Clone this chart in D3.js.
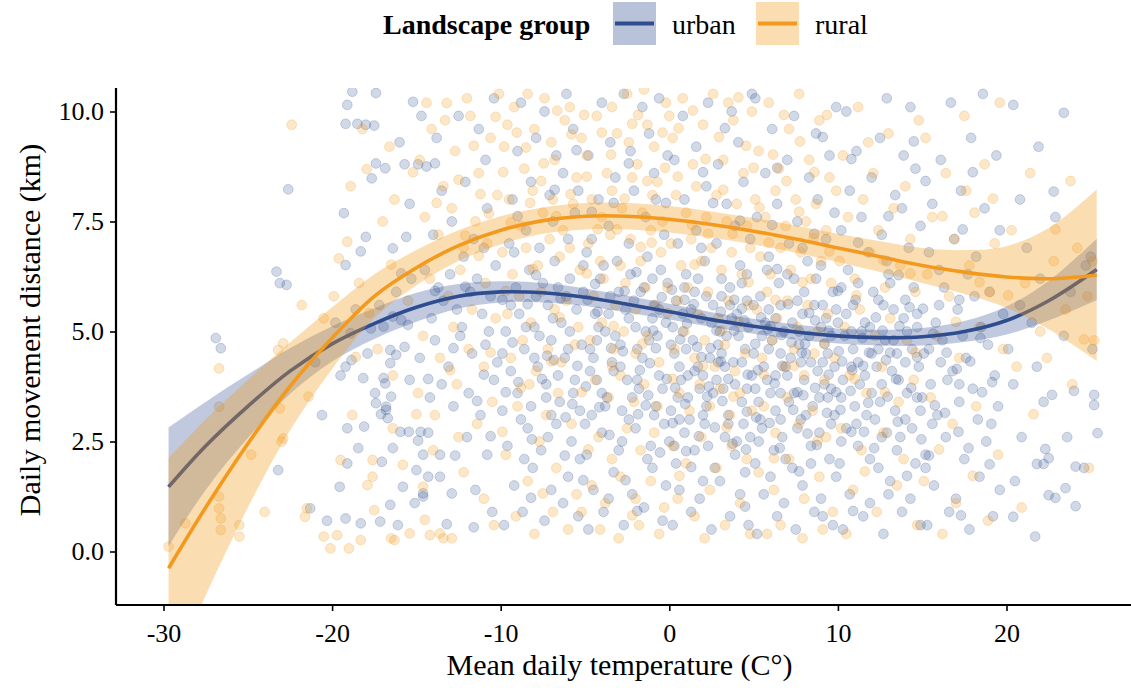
<!DOCTYPE html>
<html><head><meta charset="utf-8">
<script src="https://cdn.jsdelivr.net/npm/d3@7"></script>
<style>
body{margin:0;background:#fff}
svg{display:block}
text{font-family:"Liberation Serif","Times New Roman",serif;fill:#000}
</style>
</head><body>
<svg id="c" width="1131" height="688"></svg>
<script>
// ---------- data ----------
const groups = ["urban", "rural"];
const groupColors = {urban: "#2E4C8E", rural: "#F39A1E"};
const xTicks = [-30, -20, -10, 0, 10, 20];
const yTicks = [0, 2.5, 5, 7.5, 10];
const xTitle = "Mean daily temperature (C°)";
const yTitle = "Daily movement distance (km)";
const legendTitle = "Landscape group";

// smoothing fits (temperature, fitted value, half-width of confidence band)
const fitTemps   = [-29.7,-27.5,-25,-22.5,-20,-17.5,-15,-12.5,-10,-7.5,-5,-2.5,0,2.5,5,7.5,10,12.5,15,17.5,20,22.5,25.35];
const urbanFit   = [1.47,2.4,3.3,4.1,4.72,5.18,5.55,5.8,5.9,5.88,5.78,5.62,5.45,5.27,5.12,4.99,4.9,4.86,4.88,5.0,5.25,5.7,6.41];
const urbanHalf  = [1.35,1.0,0.72,0.52,0.4,0.35,0.33,0.28,0.24,0.22,0.2,0.19,0.18,0.17,0.17,0.17,0.17,0.18,0.2,0.24,0.32,0.45,0.7];
const ruralFit   = [-0.38,1.0,2.45,3.75,4.85,5.8,6.45,6.95,7.3,7.52,7.62,7.62,7.55,7.43,7.28,7.1,6.9,6.7,6.5,6.35,6.24,6.2,6.28];
const ruralHalf  = [2.5,2.0,1.45,1.0,0.7,0.5,0.4,0.35,0.32,0.3,0.3,0.3,0.3,0.3,0.3,0.31,0.32,0.35,0.4,0.5,0.7,1.15,1.95];

// observations [temperature, distance]
const urbanPoints = [
[-26.9,4.85],[-26.6,4.62],[-23.3,6.36],[-23.1,6.1],[-22.7,6.06],[-23.2,1.85],[-22.6,8.23],[-21.3,0.98],[-20.6,3.1],[-20.3,0.7],[-21.0,4.3],
[-19.55,1.47],[-19.2,0.75],[-18.3,0.64],[-17.15,0.68],[-16.1,0.6],[-16.55,1.06],[-19.1,2.8],[-18.1,2.84],[-18.45,2.35],[-19.1,2.0],[-17.05,2.04],[-16.4,2.35],[-15.8,1.47],[-15.95,2.72],[-15.45,2.72],[-16.85,3.82],[-17.45,3.6],[-17.4,3.37],[-16.5,3.52],[-16.8,3.22],[-18.15,3.94],[-19.2,4.2],[-18.85,4.35],[-19.5,4.0],[-16.55,4.58],[-16.2,4.47],[-15.7,4.65],[-16.55,4.28],[-16.95,3.94],[-16.8,3.29],[-16.7,3.03],[-18.9,4.96],[-17.7,5.07],[-16.95,5.11],[-16.4,5.34],[-15.9,5.26],[-15.5,5.15],[-19.3,7.69],[-19.2,6.51],[-18.0,7.15],[-16.4,6.89],[-15.6,7.15],[-19.1,10.15],[-19.2,9.72],[-18.5,9.72],[-18.0,9.7],[-17.5,9.68],[-18.8,10.45],[-17.4,10.42],[-17.4,8.82],[-16.85,8.71],[-17.65,8.48],[-15.7,8.8],[-15.2,10.22],[-16.2,5.9],[-17.2,5.6],[-15.3,6.2],[-18.6,5.5],[-17.9,4.5],[-15.4,3.9],[-15.1,1.1],[-19.8,5.2],[-16.0,9.3],[-15.4,7.9],
[-14.9,8.8],[-14.4,8.75],[-13.9,8.82],[-14.75,2.72],[-14.3,2.7],[-14.6,2.2],[-13.6,2.2],[-12.7,2.18],[-15,1.85],[-13.6,1.7],[-12.9,1.32],[-14.6,1.25],[-14.3,1.7],[-14.6,1.32],[-13.2,0.62],[-11.6,0.55],[-10.5,0.9],[-14.2,3.5],[-13.5,3.8],[-12.8,3.3],[-11.9,3.6],[-11.2,3.1],[-10.4,3.9],[-14.8,4.4],[-13.9,4.8],[-13.1,4.2],[-12.4,4.9],[-11.7,4.5],[-10.9,4.7],[-10.2,4.3],[-14.1,5.3],[-13.4,5.7],[-12.6,5.5],[-11.8,5.9],[-11.1,5.4],[-10.6,5.8],[-14.5,6.4],[-13.0,6.3],[-12.2,6.7],[-11.4,6.2],[-10.3,6.5],[-14.0,7.2],[-12.9,7.5],[-11.6,7.1],[-10.8,7.8],[-13.5,8.2],[-12.1,8.4],[-10.9,8.9],[-13.8,9.4],[-12.5,9.9],[-11.3,9.6],[-10.4,10.3],[-12.0,2.6],[-10.8,2.2],[-11.5,1.4],[-12.3,5.1],[-10.7,5.0],[-13.7,6.0],[-11.0,6.9],[-14.7,9.9],
[-9.8,0.6],[-8.7,0.9],[-7.4,0.7],[-6.3,1.1],[-5.4,0.8],[-9.2,1.5],[-8.1,1.9],[-7.0,1.4],[-6.0,1.7],[-5.3,2.1],[-9.6,2.4],[-8.4,2.8],[-7.6,2.3],[-6.7,2.9],[-5.8,2.5],[-9.9,3.2],[-9.0,3.6],[-8.2,3.3],[-7.3,3.8],[-6.5,3.4],[-5.6,3.9],[-9.4,4.1],[-8.6,4.6],[-7.8,4.2],[-7.0,4.8],[-6.2,4.4],[-5.2,4.7],[-9.7,5.0],[-8.9,5.4],[-8.0,5.1],[-7.2,5.6],[-6.4,5.2],[-5.5,5.5],[-9.1,6.0],[-8.3,6.4],[-7.5,6.1],[-6.8,6.6],[-5.9,6.2],[-5.1,6.5],[-9.5,7.0],[-8.5,7.3],[-7.7,6.9],[-6.9,7.5],[-6.0,7.1],[-9.3,8.0],[-8.2,8.4],[-7.1,8.1],[-6.3,8.6],[-5.4,8.2],[-9.0,9.1],[-7.9,9.4],[-6.7,9.0],[-5.7,9.6],[-8.8,10.2],[-7.4,10.0],[-6.1,10.4],[-9.9,4.5],[-8.8,3.0],[-7.9,5.8],[-6.6,4.0],[-5.9,5.0],[-9.4,5.6],[-8.0,4.4],[-7.0,3.1],[-6.1,5.8],[-5.3,3.2],[-8.6,2.1],[-7.2,2.6],[-9.2,6.8],[-5.6,7.7],
[-4.8,0.5],[-3.9,0.9],[-2.7,0.6],[-1.5,1.0],[-0.4,0.7],[-4.5,1.4],[-3.3,1.8],[-2.2,1.3],[-1.0,1.9],[-0.2,1.5],[-4.9,2.2],[-4.0,2.7],[-3.0,2.3],[-2.0,2.8],[-1.1,2.4],[-0.3,2.9],[-4.6,3.1],[-3.7,3.5],[-2.8,3.2],[-1.8,3.7],[-0.8,3.3],[-4.3,3.9],[-3.4,4.3],[-2.5,3.9],[-1.6,4.4],[-0.6,4.0],[-4.7,4.6],[-3.8,5.0],[-2.9,4.7],[-2.0,5.1],[-1.2,4.8],[-0.2,5.2],[-4.4,5.4],[-3.5,5.8],[-2.6,5.5],[-1.7,5.9],[-0.9,5.6],[-4.1,6.2],[-3.1,6.6],[-2.3,6.3],[-1.3,6.7],[-0.5,6.4],[-4.6,7.1],[-3.6,7.4],[-2.4,7.0],[-1.4,7.6],[-0.3,7.2],[-4.2,8.0],[-3.2,8.5],[-2.1,8.2],[-0.9,8.6],[-4.8,9.0],[-3.5,9.3],[-2.3,9.1],[-1.2,9.5],[-0.1,9.0],[-4.0,10.2],[-2.7,10.4],[-1.6,10.1],[-0.6,10.3],[-3.3,4.1],[-1.9,4.6],[-0.7,4.9],[-4.2,5.1],[-2.4,5.3],[-1.0,5.3],[-3.8,3.3],[-2.2,3.5],[-0.4,3.7],[-4.5,4.4],[-3.0,5.9],[-1.5,6.0],[-0.1,6.1],[-2.8,2.5],[-1.3,2.1],[-3.6,1.2],[-0.8,8.0],[-4.9,6.8],
[0.2,0.6],[1.3,0.9],[2.5,0.5],[3.6,0.8],[4.7,0.6],[0.6,1.4],[1.8,1.2],[3.0,1.6],[4.2,1.3],[0.4,2.0],[1.5,2.3],[2.7,1.9],[3.9,2.2],[4.8,2.6],[0.9,2.7],[2.1,2.9],[3.3,2.6],[4.4,2.9],[0.1,3.2],[1.1,3.5],[2.2,3.3],[3.2,3.7],[4.3,3.4],[0.7,3.9],[1.7,4.2],[2.8,3.9],[3.8,4.3],[4.9,4.0],[0.3,4.5],[1.4,4.8],[2.4,4.4],[3.4,4.9],[4.5,4.6],[0.8,5.0],[1.9,5.3],[3.0,5.0],[4.0,5.4],[0.4,5.7],[1.5,5.9],[2.6,5.6],[3.6,6.0],[4.6,5.7],[1.0,6.3],[2.1,6.6],[3.1,6.2],[4.2,6.5],[0.5,7.0],[1.6,7.3],[2.8,7.0],[3.9,7.4],[4.8,7.1],[0.9,8.0],[2.2,8.3],[3.4,7.9],[4.4,8.4],[0.3,8.9],[1.6,9.2],[2.9,8.8],[4.1,9.3],[0.8,9.9],[2.3,10.2],[3.7,10.0],[4.9,10.4],[0.6,4.2],[1.2,3.0],[2.0,4.0],[2.9,4.7],[3.5,3.1],[4.1,4.9],[0.2,5.1],[1.0,4.6],[1.8,3.7],[2.5,5.2],[3.3,4.2],[4.6,3.7],[4.0,2.5],[0.5,3.5],[2.3,2.4],[3.7,5.3],[4.7,5.1],[1.3,5.5],[2.6,3.6],[0.9,6.0],[3.1,5.8],[4.3,6.1],[1.9,6.9],[4.5,1.8],[2.0,1.6],[0.0,2.5],
[5.2,0.4],[6.4,0.8],[7.5,0.5],[8.6,0.9],[9.7,0.6],[5.6,1.3],[6.8,1.1],[7.9,1.5],[9.0,1.2],[9.9,1.7],[5.1,2.0],[6.2,2.3],[7.3,1.9],[8.4,2.4],[9.5,2.1],[5.5,2.8],[6.7,2.6],[7.8,3.0],[8.9,2.7],[9.8,3.1],[5.3,3.4],[6.3,3.2],[7.4,3.6],[8.5,3.3],[9.6,3.7],[5.8,3.9],[6.9,4.2],[8.0,3.9],[9.1,4.3],[5.0,4.5],[6.1,4.8],[7.2,4.4],[8.3,4.9],[9.4,4.5],[5.7,5.2],[6.8,5.0],[7.9,5.4],[9.0,5.1],[9.9,5.5],[5.4,5.8],[6.5,6.1],[7.6,5.7],[8.7,6.2],[9.7,5.9],[5.9,6.7],[7.1,7.0],[8.2,6.6],[9.3,7.1],[5.2,7.6],[6.4,7.9],[7.6,7.5],[8.8,8.0],[9.8,7.7],[5.7,8.6],[7.0,8.9],[8.3,8.5],[9.5,9.0],[6.1,9.6],[7.4,9.9],[8.7,9.5],[9.9,10.1],[5.1,10.3],[6.6,4.5],[7.7,4.7],[8.8,4.1],[5.5,4.9],[6.0,3.6],[7.1,3.4],[8.1,4.5],[9.2,3.8],[5.9,5.5],[7.3,5.2],[8.6,5.6],[9.6,4.9],[6.3,4.0],[7.6,2.8],[8.9,3.5],[5.4,3.0],[6.6,5.6],[8.0,5.9],[9.3,5.3],[7.0,6.3],[8.4,2.0],[6.0,1.7],[9.1,0.8],[5.8,6.4],[7.9,6.9],[9.0,6.5],[6.9,2.1],
[10.3,0.5],[11.5,0.8],[12.7,0.4],[13.8,0.9],[14.9,0.6],[10.7,1.3],[11.9,1.1],[13.1,1.6],[14.3,1.2],[10.1,2.0],[11.2,2.4],[12.4,1.9],[13.5,2.3],[14.6,2.0],[10.5,2.8],[11.7,3.1],[12.9,2.7],[14.0,3.0],[10.2,3.5],[11.3,3.8],[12.5,3.4],[13.6,3.9],[14.7,3.5],[10.8,4.2],[12.0,4.5],[13.2,4.1],[14.4,4.6],[10.4,4.9],[11.6,5.2],[12.8,4.8],[13.9,5.3],[10.9,5.6],[12.1,5.9],[13.3,5.5],[14.5,6.0],[10.6,6.4],[11.8,6.8],[13.0,6.3],[14.2,6.9],[10.2,7.3],[11.4,7.6],[12.6,7.2],[13.8,7.8],[14.9,7.4],[10.7,8.2],[12.0,8.5],[13.4,8.1],[14.6,8.7],[11.1,9.1],[12.5,9.4],[13.9,9.0],[10.5,10.0],[12.9,10.3],[14.3,10.1],[11.0,3.3],[12.2,3.0],[13.7,2.6],[10.9,4.6],[12.3,4.2],[13.5,4.5],[14.8,4.2],[11.4,5.0],[12.7,5.6],[14.1,5.0],[11.9,2.1],[13.0,1.3],[14.4,2.8],[10.0,5.2],[11.2,6.1],[12.9,6.6],[14.7,5.4],[10.3,3.9],[13.4,3.2],[11.6,4.0],
[15.3,0.6],[16.6,0.9],[17.8,0.5],[19.2,0.8],[15.7,1.5],[17.0,1.2],[18.4,1.7],[19.6,1.4],[15.2,2.2],[16.4,2.6],[17.5,2.1],[18.8,2.5],[15.9,3.1],[17.2,3.4],[18.3,3.0],[19.5,3.3],[15.5,3.8],[16.8,4.1],[18.0,3.7],[19.3,4.0],[15.1,4.5],[16.2,4.8],[17.6,4.4],[18.9,4.7],[15.8,5.2],[17.1,5.5],[18.5,5.1],[19.8,5.4],[16.3,6.0],[17.7,6.3],[19.0,5.9],[15.4,6.8],[16.9,7.1],[18.2,6.7],[19.6,7.3],[15.6,7.9],[17.3,8.2],[18.7,7.8],[16.1,8.9],[17.9,9.4],[19.4,9.0],[16.7,10.2],[18.6,10.4],[15.0,3.5],[16.5,3.9],[17.4,4.9],[18.1,5.8],[19.1,2.9],[16.0,5.6],
[20.4,0.79],[21.7,0.34],[22.5,1.28],[22.9,1.22],[23.5,1.44],[24.1,1.03],[20.5,1.6],[21.8,1.99],[22.2,1.99],[22.3,2.33],[22.5,2.12],[24.1,1.93],[24.6,1.9],[23.6,2.6],[25.4,2.69],[22.2,3.4],[22.7,3.56],[24.0,3.65],[25.2,3.56],[25.2,3.33],[20.9,2.6],[20.4,3.8],[21.8,4.2],[23.4,4.9],[25.1,4.6],[20.8,5.6],[22.0,6.2],[23.8,5.9],[24.7,6.5],[25.0,6.7],[21.2,6.9],[22.9,7.6],[20.8,8.0],[22.8,8.18],[21.9,9.2],[20.4,10.15],[23.4,9.97],[20.1,4.6],[21.5,5.2],
[-7.7,4.9],[-6.9,5.3],[-6.0,4.6],[-5.1,5.9],[-4.3,4.8],[-3.6,5.4],[-2.9,4.2],[-2.1,5.7],[-1.4,5.0],[-0.6,5.5],[0.1,4.7],[0.8,5.4],[1.5,4.1],[2.2,5.8],[2.9,4.3],[3.6,5.6],[4.3,4.3],[5.0,5.6],[5.6,4.2],[6.3,5.3],[7.0,4.0],[7.7,5.0],[8.4,4.3],[9.1,5.6],[9.8,4.2],[10.5,5.4],[11.2,4.3],[11.9,5.1],[12.6,3.8],[13.3,4.8],[14.0,4.3],[14.7,5.1],[15.4,4.6],[16.1,4.3],[-7.3,3.5],[-5.7,3.6],[-4.0,3.6],[-2.4,3.0],[-0.9,3.1],[0.6,3.0],[2.0,3.1],[3.5,2.9],[5.1,3.7],[6.6,3.0],[8.1,3.1],[9.6,2.9],[11.1,2.9],[12.6,2.6],[14.1,3.6],[15.6,2.9],[-6.6,6.0],[-3.9,6.5],[-1.0,6.2],[1.7,6.2],[4.6,6.3],[7.4,6.2],[10.2,6.0],[13.1,6.1],[16.0,6.4],[-8.5,5.1],[-4.7,4.1],[-1.9,3.9],[1.1,4.0],[3.9,3.8],[6.6,3.6],[9.4,3.5],[12.0,3.6],[14.9,3.2],[17.2,3.8],[-5.0,2.9],[0.3,2.4],[5.3,2.5],[10.2,2.5],[15.2,1.9],[7.8,4.3],[10.8,5.0],[3.1,4.5],[-3.2,4.9],[5.9,4.6],[12.4,4.6],
[-9.3,4.75],[-8.4,5.62],[-7.55,3.92],[-6.85,4.35],[-6.15,3.05],[-5.45,4.22],[-4.85,5.72],[-4.15,3.28],[-3.45,4.62],[-2.65,5.92],[-1.85,3.12],[-1.15,4.28],[-0.45,5.78],[0.35,3.72],[1.05,5.18],[1.75,2.62],[2.45,4.62],[3.15,3.42],[3.85,5.02],[4.55,2.32],[5.25,4.12],[5.95,2.92],[6.65,4.92],[7.35,3.22],[8.05,4.72],[8.75,2.42],[9.45,4.02],[10.15,3.22],[10.85,4.12],[11.55,2.72],[12.25,5.32],[12.95,3.52],[13.65,5.12],[14.35,3.72],[15.05,5.52],[15.75,3.32],[16.45,4.52],[17.15,2.72],[17.85,4.32],[18.55,3.62],
[-8.95,3.85],[-8.15,2.55],[-7.25,4.45],[-6.45,5.75],[-5.75,3.35],[-4.95,3.75],[-4.25,5.45],[-3.55,2.65],[-2.75,4.55],[-1.95,6.35],[-1.25,3.55],[-0.55,2.25],[0.15,5.95],[0.95,3.35],[1.65,4.65],[2.35,3.75],[3.05,5.45],[3.75,2.45],[4.45,5.25],[5.15,3.05],[5.85,5.05],[6.55,2.35],[7.25,4.75],[7.95,3.55],[8.65,5.25],[9.35,3.15],[10.05,4.55],[10.75,3.65],[11.45,4.85],[12.15,2.35],[12.85,4.35],[13.55,2.95],[14.25,5.55],[14.95,2.55],[15.65,4.95],[16.35,3.15],[17.05,4.15],[17.75,2.35],[18.45,4.85],[19.15,3.85],
[-9.7,3.62],[-7.9,6.28],[-6.2,2.18],[-4.4,6.08],[-2.6,1.62],[-0.8,4.62],[1.0,2.28],[2.8,5.02],[4.6,3.18],[6.4,6.42],[8.2,2.68],[10.0,5.92],[11.8,3.38],[13.6,6.28],[15.4,2.18],[17.2,5.72],[19.0,1.98],[-9.0,7.62],[-6.8,8.22],[-4.6,7.72],[-2.4,8.82],[-0.2,7.92],[2.0,8.62],[4.2,7.52],[6.4,8.72],[8.6,7.22],[10.8,8.92],[13.0,7.62],[15.2,8.42],[17.4,7.32],[-8.2,1.22],[-5.1,1.62],[-1.9,0.92],[1.3,1.92],[4.5,1.02],[7.7,1.82],[10.9,0.92],[14.1,1.72],[17.3,0.82],[-12.8,4.62],[-11.4,3.42],[-13.9,5.92],[-10.6,2.62],[-14.3,3.92],[-12.1,6.02],[-11.0,4.02],[-9.9,5.72],[6.1,7.42],[2.6,7.92],[-3.3,7.92],[11.2,7.02],[9.1,9.42],[3.3,9.62],[-5.5,9.12],[14.5,9.32],[18.0,8.62],[-15.9,6.32],[-18.3,6.82],[-17.1,3.12],[-14.9,2.52],
[-1.75,4.12],[-0.95,5.02],[-0.15,3.92],[0.65,4.82],[1.45,5.62],[2.25,3.52],[3.05,4.32],[3.85,5.72],[4.65,4.02],[5.45,5.32],[6.25,3.82],[7.05,5.62],[7.85,4.52],[8.65,3.72],[9.45,5.02],[10.25,4.32],[11.05,5.72],[11.85,4.52],[12.65,5.02],[13.45,3.92],[-1.4,3.32],[0.2,2.92],[1.9,4.42],[3.5,3.92],[5.1,4.72],[6.7,4.22],[8.3,5.42],[9.9,3.62],[11.5,4.22],[13.1,4.52],[14.7,4.42],[0.9,5.72],[2.7,2.82],[4.3,5.52],[6.0,5.12],[7.6,3.62],[9.2,4.72],[10.8,2.72],[12.4,5.72],[14.0,5.72]
];

const ruralPoints = [
[-29.7,0.11],[-28.7,0.64],[-26.7,4.16],[-26.7,3.29],[-26.7,1.25],[-26.7,0.98],[-26.6,0.75],[-26.6,0.49],[-25.5,0.6],[-25.5,0.34],[-24.0,0.9],[-21.5,0.98],[-21.6,0.79],[-23.0,2.5],[-22.9,2.57],[-23.1,3.25],[-22.9,4.73],[-23.2,4.58],[-21.4,3.52],[-20.5,0.34],[-19.7,0.37],[-20.1,0.07],[-19.0,0.07],[-18.3,0.26],[-19.5,2.08],[-17.6,2.08],[-17.6,1.7],[-17.9,1.51],[-17.5,0.94],[-16.5,0.3],[-16.3,0.26],[-15.4,0.41],[-14.5,0.72],[-14.2,0.37],[-13.6,0.41],[-13.4,0.3],[-16.4,2.8],[-15.8,1.97],[-14.6,1.47],
[-19.1,7.04],[-19.6,6.66],[-17.95,8.69],[-13.2,10.19],[-18.8,3.1],[-19.9,5.8],[-18.4,6.1],[-17.0,7.5],[-16.3,8.0],[-18.9,8.3],[-20.5,5.3],[-21.8,5.6],[-16.4,4.0],[-15.5,5.7],[-17.3,4.6],[-22.4,9.7],[-18.2,9.6],[-16.6,9.2],[-24.8,2.2],
[-14.8,8.9],[-14.1,9.6],[-13.4,8.3],[-12.7,9.1],[-12.0,10.3],[-11.3,8.6],[-10.6,9.4],[-14.5,7.6],[-13.7,7.2],[-12.9,7.8],[-12.2,6.9],[-11.5,7.5],[-10.8,7.0],[-10.2,8.1],[-14.2,6.2],[-13.1,5.8],[-12.4,6.4],[-11.7,5.5],[-10.9,6.1],[-14.6,4.9],[-13.6,4.4],[-12.8,5.1],[-11.9,4.6],[-11.0,4.2],[-10.3,5.3],[-14.9,3.6],[-13.9,3.1],[-12.6,3.8],[-11.4,2.9],[-10.5,3.4],[-14.0,2.3],[-12.2,1.8],[-11.0,1.2],[-10.4,0.6],[-12.9,0.3],[-13.3,9.8],[-11.8,9.9],[-10.1,10.4],[-12.5,2.6],[-14.4,10.2],
[-9.8,9.2],[-9.2,10.1],[-8.6,8.7],[-8.0,9.6],[-7.4,10.3],[-6.8,8.9],[-6.2,9.8],[-5.5,8.5],[-9.5,8.0],[-8.8,7.4],[-8.1,8.2],[-7.5,7.7],[-6.9,8.0],[-6.3,7.3],[-5.7,7.9],[-5.2,9.4],[-9.9,6.8],[-9.3,6.3],[-8.5,6.9],[-7.8,6.5],[-7.1,7.1],[-6.5,6.7],[-5.9,6.9],[-5.3,6.4],[-9.6,5.4],[-8.9,5.8],[-8.2,5.2],[-7.6,5.9],[-6.8,5.5],[-6.1,5.7],[-5.4,5.1],[-9.4,4.4],[-8.7,4.8],[-7.9,4.1],[-7.2,4.6],[-6.4,4.3],[-5.6,4.7],[-9.0,3.3],[-8.3,3.8],[-7.3,3.1],[-6.6,3.6],[-5.8,2.9],[-9.7,2.2],[-8.4,1.6],[-7.7,2.5],[-6.7,1.9],[-5.5,1.3],[-9.1,0.8],[-8.0,0.4],[-6.9,0.9],[-6.0,0.5],[-5.2,0.9],[-7.0,9.3],[-8.4,10.4],[-5.9,10.1],[-9.6,9.7],
[-4.9,9.0],[-4.3,9.9],[-3.7,8.6],[-3.1,9.5],[-2.5,10.4],[-1.9,8.8],[-1.3,9.7],[-0.7,8.4],[-0.2,10.2],[-4.6,8.0],[-4.0,7.6],[-3.4,8.2],[-2.8,7.8],[-2.2,8.5],[-1.6,7.7],[-1.0,8.1],[-0.4,7.5],[-4.8,7.0],[-4.1,6.6],[-3.5,7.2],[-2.9,6.5],[-2.3,7.1],[-1.7,6.6],[-1.1,7.3],[-0.5,6.8],[-4.5,5.8],[-3.9,6.2],[-3.2,5.6],[-2.6,6.1],[-2.0,5.5],[-1.4,6.0],[-0.8,5.6],[-0.1,6.0],[-4.7,4.8],[-4.0,5.2],[-3.3,4.6],[-2.7,5.0],[-2.0,4.5],[-1.3,4.9],[-0.6,4.3],[-4.4,3.9],[-3.6,3.5],[-2.9,4.0],[-2.1,3.4],[-1.5,3.8],[-0.7,3.3],[-4.2,2.6],[-3.4,2.1],[-2.5,2.8],[-1.7,2.3],[-0.9,2.7],[-4.6,1.5],[-3.8,1.1],[-2.9,1.7],[-2.0,1.2],[-1.1,1.6],[-0.3,1.0],[-4.1,0.5],[-3.0,0.3],[-1.8,0.6],[-0.6,0.4],[-3.4,10.1],[-1.5,10.5],[-2.4,9.3],[-0.9,9.2],
[0.2,9.4],[0.8,10.3],[1.4,8.8],[2.0,9.7],[2.6,10.4],[3.2,8.9],[3.8,9.8],[4.4,8.6],[4.9,10.0],[0.4,8.1],[1.0,7.7],[1.6,8.3],[2.2,7.6],[2.8,8.1],[3.4,7.5],[4.0,7.9],[4.6,7.4],[0.1,7.0],[0.7,6.5],[1.3,7.1],[1.9,6.6],[2.5,6.9],[3.1,6.4],[3.7,6.8],[4.3,6.3],[4.8,6.9],[0.5,5.7],[1.1,6.0],[1.7,5.4],[2.3,5.9],[2.9,5.3],[3.5,5.7],[4.1,5.2],[4.7,5.6],[0.3,4.6],[0.9,5.0],[1.5,4.4],[2.1,4.8],[2.7,4.2],[3.3,4.7],[3.9,4.1],[4.5,4.5],[0.6,3.6],[1.2,3.2],[1.8,3.8],[2.4,3.3],[3.0,3.7],[3.6,3.1],[4.2,3.6],[4.9,3.2],[0.2,2.4],[1.0,2.0],[1.9,2.6],[2.8,1.9],[3.7,2.4],[4.6,2.1],[0.5,1.2],[1.5,0.8],[2.4,1.4],[3.3,0.6],[4.2,1.1],[4.8,0.4],[2.1,0.3],[0.0,9.9],[3.5,10.2],
[5.3,9.1],[5.9,10.2],[6.5,8.7],[7.1,9.6],[7.7,10.4],[8.3,8.9],[8.9,9.8],[9.5,8.5],[5.1,8.0],[5.7,7.6],[6.3,8.2],[6.9,7.4],[7.5,8.0],[8.1,7.5],[8.7,7.9],[9.3,7.3],[9.9,8.2],[5.4,6.7],[6.0,6.3],[6.6,6.9],[7.2,6.4],[7.8,6.8],[8.4,6.2],[9.0,6.6],[9.6,6.1],[5.2,5.5],[5.8,5.9],[6.4,5.3],[7.0,5.7],[7.6,5.1],[8.2,5.6],[8.8,5.0],[9.4,5.4],[5.5,4.4],[6.1,4.8],[6.8,4.2],[7.4,4.6],[8.0,4.0],[8.6,4.5],[9.2,3.9],[9.8,4.4],[5.6,3.3],[6.3,2.7],[7.0,3.5],[7.7,2.9],[8.5,3.2],[9.3,2.6],[5.3,1.8],[6.2,1.4],[7.1,2.1],[8.0,1.2],[8.9,1.7],[9.7,0.9],[6.6,0.6],[7.9,0.3],[9.1,0.5],[5.8,0.4],
[10.3,9.0],[11.2,10.1],[12.1,8.6],[13.0,9.5],[14.0,8.3],[14.8,9.8],[10.6,7.6],[11.5,8.0],[12.4,7.3],[13.3,7.8],[14.3,7.1],[10.1,6.6],[11.0,6.2],[11.9,6.8],[12.8,6.0],[13.7,6.5],[14.6,5.9],[10.4,5.1],[11.3,5.5],[12.2,4.9],[13.1,5.3],[14.1,4.8],[10.7,4.0],[11.7,3.6],[12.6,4.2],[13.6,3.4],[14.5,3.9],[10.2,2.8],[11.4,2.3],[12.7,2.7],[13.9,2.1],[10.9,1.4],[12.3,0.9],[13.5,1.5],[14.7,0.6],[10.5,0.4],[11.8,9.3],
[15.2,9.4],[16.4,8.6],[17.5,9.9],[18.7,8.8],[19.6,10.2],[15.6,7.6],[16.9,7.1],[18.1,7.7],[19.3,7.0],[15.3,6.3],[16.6,5.8],[17.8,6.5],[19.0,5.9],[15.9,4.9],[17.2,4.4],[18.4,5.1],[19.8,4.6],[15.5,3.5],[16.8,2.9],[18.2,3.3],[15.1,1.6],[17.0,1.1],[18.9,0.7],[19.5,2.2],[16.2,0.4],[17.6,8.2],
[20.3,7.3],[21.1,6.1],[22.0,5.0],[22.8,6.6],[23.5,5.5],[24.2,6.9],[24.8,5.8],[25.1,6.6],[20.6,4.2],[21.4,8.6],[23.9,3.8],[24.9,1.9],[20.9,1.0],[22.4,4.4],[25.2,4.8],
[-12.5,8.45],[-11.6,9.22],[-10.7,7.68],[-9.85,8.62],[-9.05,9.52],[-8.25,7.92],[-7.45,8.82],[-6.65,10.02],[-5.85,8.12],[-5.05,9.92],[-4.25,7.32],[-3.45,9.02],[-2.65,8.02],[-1.85,9.92],[-1.05,7.02],[-0.25,8.72],[0.55,9.62],[1.35,7.42],[2.15,8.92],[2.95,9.42],[3.75,7.22],[4.55,9.22],[5.35,7.82],[6.15,9.02],[6.95,8.42],[7.75,9.32],[8.55,7.12],[9.35,9.92],
[-12.1,7.18],[-11.2,8.12],[-10.3,9.88],[-9.4,7.48],[-8.5,9.18],[-7.6,8.42],[-6.7,7.62],[-5.8,9.48],[-4.9,8.52],[-4.0,9.52],[-3.1,7.32],[-2.2,9.72],[-1.3,8.42],[-0.4,9.52],[0.5,8.52],[1.4,10.02],[2.3,7.22],[3.2,8.22],[4.1,10.32],[5.0,8.72],[5.9,7.02],[6.8,9.92],[7.7,7.72],[8.6,8.62],
[-11.3,6.72],[-9.7,5.92],[-8.1,6.42],[-6.5,5.32],[-4.9,6.32],[-3.3,5.12],[-1.7,6.92],[-0.1,5.42],[1.5,6.52],[3.1,5.02],[4.7,6.12],[6.3,5.72],[7.9,6.12],[9.5,6.82],[11.1,5.82],[12.7,6.62],[14.3,6.32],[-10.6,4.52],[-8.8,3.72],[-7.0,4.32],[-5.2,3.62],[-3.4,4.22],[-1.6,4.72],[0.2,3.92],[2.0,4.22],[3.8,3.52],[5.6,4.02],[7.4,4.22],[9.2,4.72],[11.0,3.92],[12.8,3.62],[14.6,4.52],[-9.9,2.72],[-7.5,1.32],[-4.8,2.32],[-2.2,0.82],[0.6,1.72],[3.4,2.82],[6.2,2.12],[8.8,2.52],[11.6,1.82],[-13.8,7.92],[-15.2,8.62],[-16.5,6.52],[-17.8,5.42],[-15.0,3.12],[-13.0,4.12],[-18.6,4.42],[16.2,7.62],[18.4,6.12],[17.0,5.22],[19.2,8.02],[16.0,2.32],[21.6,3.12],[22.9,7.32],[23.8,8.42],[24.6,4.82],[20.1,5.82],[18.0,1.72]
];

// ---------- layout ----------
const panel = {left: 116, right: 1131, top: 88, bottom: 605};
const x = d3.scaleLinear().domain([-30, 20]).range([163.5, 1006.5]);
const y = d3.scaleLinear().domain([0, 10]).range([551.5, 111.5]);

const svg = d3.select("#c");
svg.append("defs").append("clipPath").attr("id", "clip")
  .append("rect").attr("x", panel.left).attr("y", panel.top)
  .attr("width", panel.right - panel.left).attr("height", panel.bottom - panel.top);

const plot = svg.append("g").attr("clip-path", "url(#clip)");

// points
const pointSeries = {urban: urbanPoints, rural: ruralPoints};
groups.forEach(g => {
  plot.append("g").selectAll("circle").data(pointSeries[g]).join("circle")
    .attr("cx", d => x(d[0])).attr("cy", d => y(d[1])).attr("r", 4.9)
    .attr("fill", groupColors[g]).attr("fill-opacity", g === "urban" ? 0.22 : 0.24)
    .attr("stroke", groupColors[g]).attr("stroke-opacity", g === "urban" ? 0.22 : 0.24)
    .attr("stroke-width", 1);
});

// smooths
const fits = {
  urban: fitTemps.map((t, i) => ({t, v: urbanFit[i], lo: urbanFit[i] - urbanHalf[i], hi: urbanFit[i] + urbanHalf[i]})),
  rural: fitTemps.map((t, i) => ({t, v: ruralFit[i], lo: ruralFit[i] - ruralHalf[i], hi: ruralFit[i] + ruralHalf[i]}))
};
const area = d3.area().x(d => x(d.t)).y0(d => y(d.lo)).y1(d => y(d.hi)).curve(d3.curveCatmullRom);
const line = d3.line().x(d => x(d.t)).y(d => y(d.v)).curve(d3.curveCatmullRom);
groups.forEach(g => {
  plot.append("path").datum(fits[g]).attr("d", area)
    .attr("fill", groupColors[g]).attr("fill-opacity", g === "urban" ? 0.3 : 0.34);
  plot.append("path").datum(fits[g]).attr("d", line)
    .attr("fill", "none").attr("stroke", groupColors[g]).attr("stroke-width", 3.6);
});

// axes
const xAxis = svg.append("g").attr("transform", `translate(0,${panel.bottom})`)
  .call(d3.axisBottom(x).tickValues(xTicks).tickSize(6).tickPadding(13).tickFormat(d => String(d)));
xAxis.select(".domain").remove();
xAxis.selectAll("line").attr("stroke", "#000").attr("stroke-width", 1.6);
xAxis.selectAll("text").attr("font-size", 26).attr("font-family", '"Liberation Serif",serif').attr("fill", "#111");

const yAxis = svg.append("g").attr("transform", `translate(${panel.left},0)`)
  .call(d3.axisLeft(y).tickValues(yTicks).tickSize(6).tickPadding(6).tickFormat(d3.format(".1f")));
yAxis.select(".domain").remove();
yAxis.selectAll("line").attr("stroke", "#000").attr("stroke-width", 1.6);
yAxis.selectAll("text").attr("font-size", 26).attr("font-family", '"Liberation Serif",serif').attr("fill", "#111");

svg.append("line").attr("x1", panel.left).attr("x2", panel.right).attr("y1", panel.bottom).attr("y2", panel.bottom)
  .attr("stroke", "#000").attr("stroke-width", 2.2);
svg.append("line").attr("x1", panel.left).attr("x2", panel.left).attr("y1", panel.top).attr("y2", panel.bottom)
  .attr("stroke", "#000").attr("stroke-width", 2.2);

// axis titles
svg.append("text").attr("x", (panel.left + panel.right) / 2 - 4).attr("y", 675)
  .attr("text-anchor", "middle").attr("font-size", 30).text(xTitle);
svg.append("text").attr("transform", `translate(40,330) rotate(-90)`)
  .attr("text-anchor", "middle").attr("font-size", 30).text(yTitle);

// legend
const leg = svg.append("g");
leg.append("text").attr("x", 383).attr("y", 34).attr("font-size", 28).attr("font-weight", "bold").text(legendTitle);
const legendItems = [{g: "urban", kx: 613, tx: 672}, {g: "rural", kx: 756, tx: 815}];
legendItems.forEach(it => {
  leg.append("rect").attr("x", it.kx).attr("y", 2).attr("width", 43).attr("height", 43)
    .attr("fill", groupColors[it.g]).attr("fill-opacity", 0.34);
  leg.append("line").attr("x1", it.kx + 2).attr("x2", it.kx + 41).attr("y1", 23.5).attr("y2", 23.5)
    .attr("stroke", groupColors[it.g]).attr("stroke-width", 4);
  leg.append("text").attr("x", it.tx).attr("y", 34).attr("font-size", 28).text(it.g);
});
</script>
</body></html>
